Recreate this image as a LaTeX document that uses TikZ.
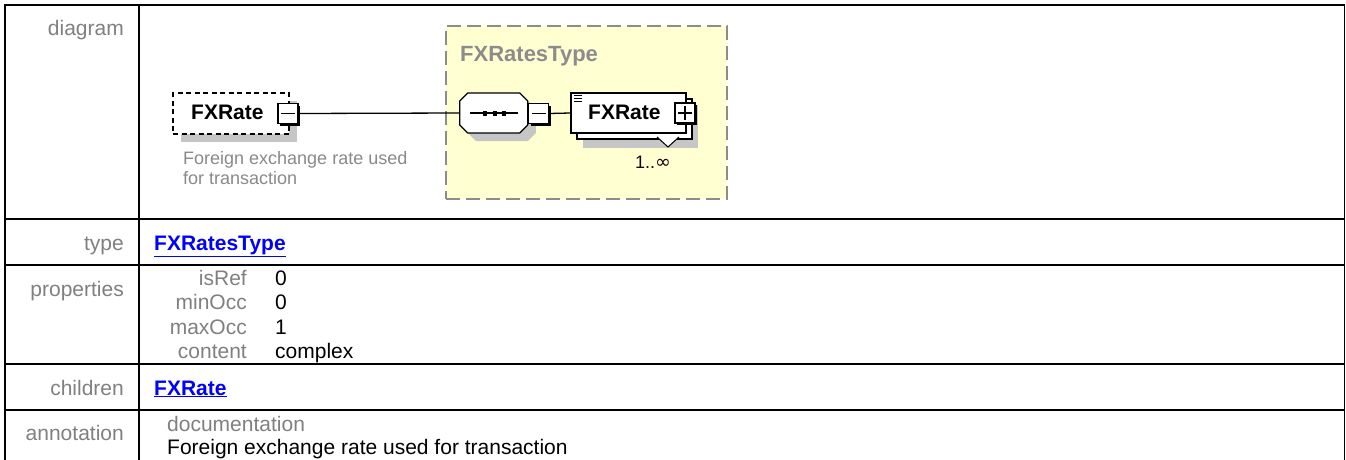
\documentclass[tikz,border=0pt]{standalone}
\usepackage{fontspec}
\setmainfont{Liberation Sans}
\newfontfamily\dejavu{DejaVu Sans}
\usetikzlibrary{shadows}
\definecolor{lblgray}{HTML}{808080}
\definecolor{capgray}{HTML}{8A8A8A}
\definecolor{linkblue}{HTML}{0000FF}
\definecolor{typeyellow}{HTML}{FFFFD2}
\definecolor{typeborder}{HTML}{8C8C8C}
\definecolor{shadegray}{HTML}{C6C6C6}
\tikzset{
  tbl/.style={line width=1.5pt, line cap=rect},
  txt/.style={inner sep=0pt, font=\fontsize{21}{25}\selectfont},
  lab/.style={txt, text=lblgray, anchor=base east},
  val/.style={txt, text=black, anchor=base west},
  link/.style={txt, text=linkblue, anchor=base west, font=\fontsize{21}{25}\selectfont\bfseries},
  boxbase/.style={draw, fill=white, inner sep=0pt, line width=1.3pt},
  pmbox/.style={boxbase, minimum width=20pt, minimum height=20pt,
     drop shadow={shadow xshift=2pt, shadow yshift=-2pt, fill=black, opacity=1}},
  minusbox/.style={pmbox, path picture={\draw[line width=1.2pt]
     ([xshift=3pt]path picture bounding box.west) -- ([xshift=-3pt]path picture bounding box.east);}},
  plusbox/.style={pmbox, path picture={\draw[line width=1.2pt]
     ([xshift=3pt]path picture bounding box.west) -- ([xshift=-3pt]path picture bounding box.east)
     ([yshift=-3pt]path picture bounding box.north) -- ([yshift=3pt]path picture bounding box.south);}},
  shade/.style={fill=shadegray},
  conn/.style={line width=1.3pt},
  elname/.style={inner sep=0pt, anchor=base west, font=\fontsize{21}{24}\selectfont\bfseries},
}
\begin{document}
\begin{tikzpicture}[x=1pt,y=-1pt]
\useasboundingbox[fill=white] (0,0) rectangle (1346,460);

% ---------- table ----------
\draw[tbl] (5,460) -- (5,5) -- (1344.5,5) -- (1344.5,460);
\draw[tbl] (139,5) -- (139,460);
\foreach \yy in {219,265,364,410} \draw[tbl] (5,\yy) -- (1344.5,\yy);

\node[lab] (ldiagram) at (124,36) {diagram};
\node[lab] (ltype) at (124,250) {type};
\node[lab] (lprops) at (124,296) {properties};
\node[lab] (lchildren) at (124,395) {children};
\node[lab] (lannot) at (124,440) {annotation};

\node[link] (vtype) at (154,250) {\underline{FXRatesType}};

\node[lab] (kisref) at (247,285) {isRef};
\node[val] (visref) at (275,285) {0};
\node[lab] (kminocc) at (247,309.5) {minOcc};
\node[val] (vminocc) at (275,309.5) {0};
\node[lab] (kmaxocc) at (247,334) {maxOcc};
\node[val] (vmaxocc) at (275,334) {1};
\node[lab] (kcontent) at (247,358.5) {content};
\node[val] (vcontent) at (275,358.5) {complex};

\node[link] (vchildren) at (154,395) {\underline{FXRate}};

\node[txt, text=lblgray, anchor=base west] (kdoc) at (167,431) {documentation};
\node[val] (vdoc) at (167,454.5) {Foreign exchange rate used for transaction};

% ---------- diagram ----------
% complex type box
\node[draw=typeborder, fill=typeyellow, line width=1.5pt, dash pattern=on 14pt off 6pt,
      minimum width=281pt, minimum height=173pt, inner sep=0pt] (tbox) at (586.5,112.5) {};
\node[elname, text=typeborder, font=\fontsize{22}{24}\selectfont\bfseries] (tname) at (460,62) {FXRatesType};

% left element
\fill[shade] (181,101) rectangle (297,142);
\node[boxbase, dashed, dash pattern=on 5pt off 3.5pt, minimum width=116pt, minimum height=41pt] (el) at (231,113.5) {};
\node[elname] (elname) at (191,119) {FXRate};
\node[minusbox] (mb1) at (288,113.5) {};
\node[txt, text=capgray, anchor=base west, font=\fontsize{18}{20}\selectfont] (cap1) at (183,164) {Foreign exchange rate used};
\node[txt, text=capgray, anchor=base west, font=\fontsize{18}{20}\selectfont] (cap2) at (183,184) {for transaction};

% sequence compositor
\node[inner sep=0pt, minimum width=68pt, minimum height=40pt] (seq) at (494,113) {};
\fill[shade] ([shift={(8,8)}]seq.west) ++(0,-12) -- ++(8,-8) -- ++(52,0) -- ++(8,8) -- ++(0,24) -- ++(-8,8) -- ++(-52,0) -- ++(-8,-8) -- cycle;
\draw[boxbase] (seq.west) ++(0,-12) -- ++(8,-8) -- ++(52,0) -- ++(8,8) -- ++(0,24) -- ++(-8,8) -- ++(-52,0) -- ++(-8,-8) -- cycle;
\draw[conn] ([xshift=10pt]seq.west) -- ([xshift=-10pt]seq.east);
\foreach \xx in {485,495,504} \fill (\xx-2.2,111.3) rectangle (\xx+2.2,115.7);
\node[minusbox] (mb2) at (538.5,113.5) {};

% child element (1..unbounded)
\fill[shade] (583,105) rectangle (698,148);
\node[boxbase, minimum width=115pt, minimum height=40pt] (chback) at (634.5,119) {};
\filldraw[fill=white, line width=1pt] (657,137) -- (668,147) -- (679,137);
\node[boxbase, minimum width=115pt, minimum height=40pt] (ch) at (628.5,113) {};
\draw[line width=1pt] (574,95.5) -- (582,95.5) (574,98.5) -- (582,98.5) (574,101.5) -- (582,101.5);
\node[elname] (chname) at (588,119) {FXRate};
\node[plusbox] (pb) at (685,113) {};
\node[txt, anchor=base west, text=black!85!purple, font=\fontsize{18}{20}\selectfont] (mult) at (635,168) {1..{\dejavu\fontsize{19}{20}\selectfont ∞}};

% connectors
\draw[conn] (mb1.east) -- (seq.west);
\draw[conn] (mb2.east) -- (ch.west);
\end{tikzpicture}
\end{document}
